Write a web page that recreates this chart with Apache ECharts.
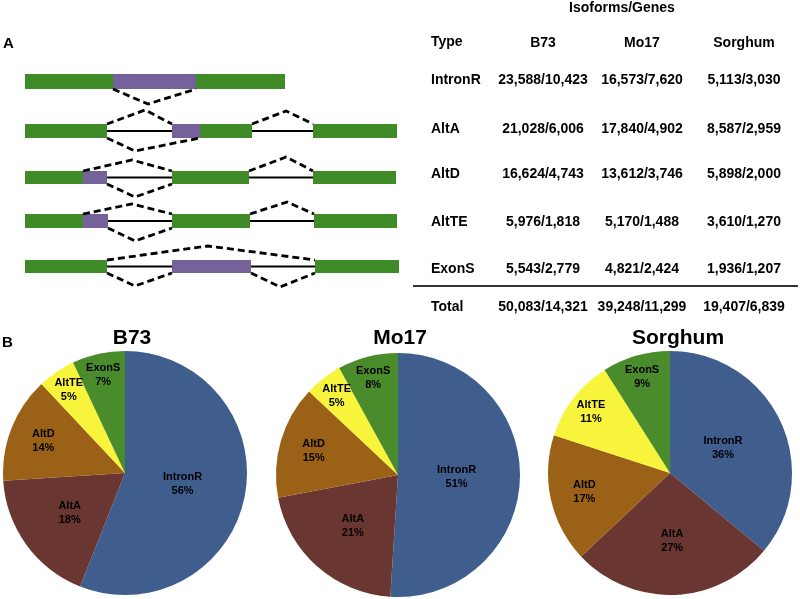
<!DOCTYPE html>
<html>
<head>
<meta charset="utf-8">
<script src="https://cdn.jsdelivr.net/npm/echarts@6/dist/echarts.min.js"></script>
<style>
html,body{margin:0;padding:0;background:#fff;}
#c{width:800px;height:599px;}
</style>
</head>
<body>
<div id="c"></div>
<script>
// ---- data ----
var types = ['IntronR', 'AltA', 'AltD', 'AltTE', 'ExonS'];
var genomes = ['B73', 'Mo17', 'Sorghum'];
var tableB73 = ['23,588/10,423', '21,028/6,006', '16,624/4,743', '5,976/1,818', '5,543/2,779'];
var tableMo17 = ['16,573/7,620', '17,840/4,902', '13,612/3,746', '5,170/1,488', '4,821/2,424'];
var tableSorghum = ['5,113/3,030', '8,587/2,959', '5,898/2,000', '3,610/1,270', '1,936/1,207'];
var totals = ['50,083/14,321', '39,248/11,299', '19,407/6,839'];
var pctB73 = [56, 18, 14, 5, 7];
var pctMo17 = [51, 21, 15, 5, 8];
var pctSorghum = [36, 27, 17, 11, 9];

// ---- styles ----
var sliceColors = ['#3f5d8d', '#6a3631', '#9b6116', '#f8f43c', '#4a8b2b'];
var labelRadFrac = [0.48, 0.56, 0.72, 0.82, 0.82];
var pieCenters = [[125, 473], [398, 475], [670, 473]];
var pieR = 122;
var GREEN = '#3f8b28', PURPLE = '#76629a';
var FONT = 'Liberation Sans, Arial, sans-serif';

var chart = echarts.init(document.getElementById('c'));
var graphics = [];

function txt(x, y, s, size, align) {
  graphics.push({type: 'text', x: x, y: y, style: {text: s, font: 'bold ' + size + 'px ' + FONT,
    fill: '#000', textAlign: align || 'center', textVerticalAlign: 'middle'}});
}

// panel letters
txt(3, 44, 'A', 15, 'left');
txt(2, 343, 'B', 15, 'left');

// ---- diagram (schematic illustration) ----
var rows = [
  {y: 74, h: 15, rects: [[25,113,GREEN],[113,196,PURPLE],[196,285,GREEN]], lines: [],
   dashes: [[[113,89],[148,104],[196,89]]]},
  {y: 124, h: 14, rects: [[25,107,GREEN],[172,200,PURPLE],[200,252,GREEN],[313,397,GREEN]], lines: [[107,172],[252,313]],
   dashes: [[[107,124],[145,110],[172,124]], [[107,138],[135,151],[200,138]], [[252,124],[286,111],[313,124]]]},
  {y: 171, h: 13, rects: [[25,83,GREEN],[83,107,PURPLE],[172,249,GREEN],[313,396,GREEN]], lines: [[107,172],[249,313]],
   dashes: [[[83,171],[132,160],[172,171]], [[107,184],[135,197],[172,184]], [[249,171],[286,157],[313,171]]]},
  {y: 214, h: 14, rects: [[25,83,GREEN],[83,108,PURPLE],[172,250,GREEN],[314,397,GREEN]], lines: [[108,172],[250,314]],
   dashes: [[[83,214],[132,204],[172,214]], [[108,228],[135,241],[172,228]], [[250,214],[287,202],[314,214]]]},
  {y: 260, h: 13, rects: [[25,107,GREEN],[172,251,PURPLE],[315,399,GREEN]], lines: [[107,172],[251,315]],
   dashes: [[[107,260],[208,246],[315,260]], [[107,273],[135,286],[172,273]], [[251,273],[280,287],[315,273]]]}
];
rows.forEach(function (r) {
  var my = r.y + r.h / 2;
  r.lines.forEach(function (l) {
    graphics.push({type: 'line', shape: {x1: l[0], y1: my, x2: l[1], y2: my}, style: {stroke: '#000', lineWidth: 2}});
  });
  r.rects.forEach(function (b) {
    graphics.push({type: 'rect', shape: {x: b[0], y: r.y, width: b[1] - b[0], height: r.h}, style: {fill: b[2]}});
  });
  r.dashes.forEach(function (d) {
    graphics.push({type: 'polyline', shape: {points: d}, style: {stroke: '#000', lineWidth: 2.8, lineDash: [7, 4], fill: null}});
  });
});

// ---- table ----
var colX = [543, 642, 744];
var rowY = [80, 129, 174, 222, 269];
txt(622, 8, 'Isoforms/Genes', 14);
txt(431, 42, 'Type', 14, 'left');
genomes.forEach(function (g, i) { txt(colX[i], 43, g, 14); });
var cols = [tableB73, tableMo17, tableSorghum];
types.forEach(function (t, j) {
  txt(431, rowY[j], t, 14, 'left');
  cols.forEach(function (c, i) { txt(colX[i], rowY[j], c[j], 14); });
});
graphics.push({type: 'line', shape: {x1: 413, y1: 286, x2: 798, y2: 286}, style: {stroke: '#333', lineWidth: 2}});
txt(431, 307, 'Total', 14, 'left');
totals.forEach(function (t, i) { txt(colX[i], 307, t, 14); });

// ---- pies ----
var pcts = [pctB73, pctMo17, pctSorghum];
var titleX = [127, 395, 673];
var series = [];
var titles = [];
pcts.forEach(function (p, si) {
  titles.push({text: genomes[si], left: titleX[si], top: 333, textAlign: 'center', textVerticalAlign: 'middle',
    textStyle: {fontFamily: FONT, fontWeight: 'bold', fontSize: 21, color: '#000'}});
  var total = p.reduce(function (a, b) { return a + b; }, 0);
  var cum = 0;
  var mids = p.map(function (v) { var m = (cum + v / 2) / total * Math.PI * 2; cum += v; return m; });
  var c = pieCenters[si];
  series.push({
    type: 'pie', center: c, radius: pieR, startAngle: 90, clockwise: true,
    animation: false, silent: true,
    itemStyle: {borderWidth: 0},
    label: {position: 'inside', color: '#000', fontFamily: FONT, fontWeight: 'bold', fontSize: 11, lineHeight: 14,
      formatter: function (prm) { return prm.name + '\n' + prm.value + '%'; }},
    labelLayout: function (prm) {
      var i = prm.dataIndex, a = mids[i], d = labelRadFrac[i] * pieR;
      return {x: c[0] + d * Math.sin(a), y: c[1] - d * Math.cos(a), align: 'center', verticalAlign: 'middle'};
    },
    data: types.map(function (t, i) { return {name: t, value: p[i], itemStyle: {color: sliceColors[i]}}; })
  });
});

chart.setOption({
  backgroundColor: '#fff',
  animation: false,
  title: titles,
  series: series,
  graphic: graphics
});
</script>
</body>
</html>
